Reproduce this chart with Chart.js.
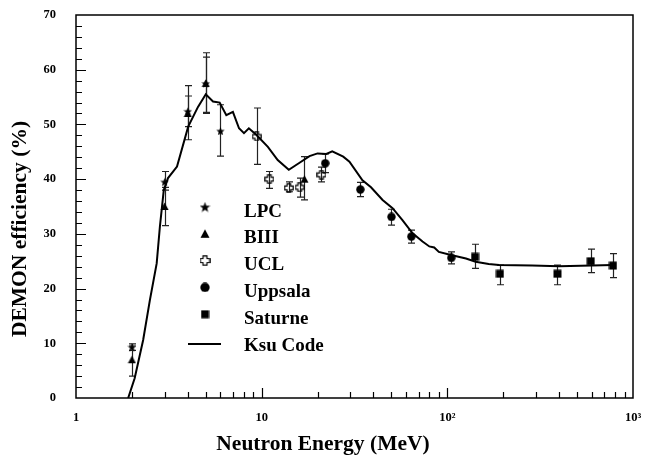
<!DOCTYPE html>
<html>
<head>
<meta charset="utf-8">
<script src="https://cdn.jsdelivr.net/npm/chart.js@4.4.0/dist/chart.umd.min.js"></script>
<style>
  body { margin: 0; background: #fff; }
  canvas { display: block; }
</style>
</head>
<body>
<canvas id="chart" width="648" height="457"></canvas>
<script>
const ctx = document.getElementById('chart').getContext('2d');
const SERIF = "'Liberation Serif', 'Times New Roman', serif";

// --- data (energy in MeV, efficiency in %) ---
const lpcE   = [2, 3, 4, 5, 6];
const lpcEff = [9.3, 39.5, 52.4, 57.5, 48.8];
const lpcLo  = [8.7, 38.0, 49.6, 52.0, 44.2];
const lpcHi  = [9.9, 41.4, 55.2, 63.1, 53.6];

const biiiE   = [2, 3, 4, 5, 17];
const biiiEff = [7.0, 35.0, 52.0, 57.5, 40.0];
const biiiLo  = [4.0, 31.5, 47.2, 52.2, 36.2];
const biiiHi  = [9.5, 38.5, 57.1, 62.3, 44.1];

const uclE   = [9.4, 11, 14, 16, 21];
const uclEff = [47.8, 40.0, 38.4, 38.5, 40.8];
const uclLo  = [42.7, 38.3, 37.7, 36.7, 39.5];
const uclHi  = [53.0, 41.4, 39.5, 40.2, 42.2];

const uppE   = [22, 34, 50, 64, 105];
const uppEff = [42.9, 38.1, 33.1, 29.5, 25.6];
const uppLo  = [41.2, 36.8, 31.6, 28.3, 24.5];
const uppHi  = [44.6, 39.4, 34.5, 30.7, 26.7];

const satE   = [141, 192, 392, 592, 780];
const satEff = [25.8, 22.7, 22.7, 25.0, 24.2];
const satLo  = [23.7, 20.7, 20.7, 22.9, 22.0];
const satHi  = [28.1, 24.3, 24.3, 27.2, 26.4];

const ksuE   = [1.91, 2.07, 2.3, 2.5, 2.72, 2.83, 2.97, 3.13, 3.5, 4.02, 4.54, 5.0, 5.47, 5.94, 6.45, 7.0, 7.55,
                8.03, 8.53, 9.35, 10.8, 12.2, 14.0, 16.0, 18.1, 20.0, 22.3, 24.0, 27.5, 29.7, 34.9, 38.8, 44.8,
                50.7, 57.3, 65, 73.5, 80, 85, 90, 106, 126, 142, 167, 190, 286, 400, 600, 780];
const ksuEff = [0, 3.6, 10.6, 17.9, 24.6, 31.3, 38.0, 40.2, 42.3, 49.6, 53.2, 55.5, 54.2, 54.0, 51.7, 52.3, 49.3,
                48.4, 49.3, 48.1, 45.9, 43.5, 41.7, 43.0, 44.2, 44.7, 44.6, 45.1, 44.1, 43.2, 39.8, 38.5, 36.2,
                34.7, 32.5, 30.1, 28.6, 27.7, 27.5, 26.7, 26.1, 25.5, 24.9, 24.5, 24.3, 24.2, 24.1, 24.2, 24.3];

const xTicks = [1, 10, 100, 1000];
const xTickLabels = ['1', '10', '10\u00b2', '10\u00b3'];
const yTicks = [0, 10, 20, 30, 40, 50, 60, 70];
const legendNames = ['LPC', 'BIII', 'UCL', 'Uppsala', 'Saturne', 'Ksu Code'];

// --- marker images ---
function marker(kind, s) {
    const c = document.createElement('canvas');
    c.width = c.height = s;
    const g = c.getContext('2d');
    const m = s / 2;
    g.fillStyle = '#000'; g.strokeStyle = '#000';
    g.beginPath();
    if (kind === 'star') {
        for (let i = 0; i < 10; i++) {
            const r = i % 2 ? m * 0.42 : m;
            const a = -Math.PI / 2 + i * Math.PI / 5;
            g.lineTo(m + r * Math.cos(a), m + 0.5 + r * Math.sin(a));
        }
        g.closePath(); g.fill();
    } else if (kind === 'tri') {
        g.moveTo(m, 0.5); g.lineTo(s - 0.5, s - 1); g.lineTo(0.5, s - 1); g.closePath(); g.fill();
    } else if (kind === 'cross') {
        const a = s * 0.32, b = s * 0.68, e = 0.8, f = s - 0.8;
        g.lineWidth = 1.2;
        g.moveTo(a, e); g.lineTo(b, e); g.lineTo(b, a); g.lineTo(f, a); g.lineTo(f, b); g.lineTo(b, b);
        g.lineTo(b, f); g.lineTo(a, f); g.lineTo(a, b); g.lineTo(e, b); g.lineTo(e, a); g.lineTo(a, a);
        g.closePath(); g.stroke();
    } else if (kind === 'circle') {
        g.arc(m, m, m - 0.3, 0, Math.PI * 2); g.fill();
    } else {
        g.fillRect(0.5, 0.5, s - 1, s - 1);
    }
    return c;
}

const kinds = ['star', 'tri', 'cross', 'circle', 'square'];
const dataMarks = kinds.map((k, i) => marker(k, [9, 9, 10, 9, 9][i]));
const legendMarks = kinds.map((k, i) => marker(k, [11, 10, 11, 10, 9][i]));

const pts = (xs, ys) => xs.map((x, i) => ({ x, y: ys[i] }));

const errSets = [
    { e: lpcE, lo: lpcLo, hi: lpcHi },
    { e: biiiE, lo: biiiLo, hi: biiiHi },
    { e: uclE, lo: uclLo, hi: uclHi },
    { e: uppE, lo: uppLo, hi: uppHi },
    { e: satE, lo: satLo, hi: satHi }
];

// --- plugins: error bars, frame + inward ticks, labels, titles, legend ---
const errorBars = {
    id: 'errorBars',
    beforeDatasetsDraw(chart) {
        const { ctx, scales: { x, y } } = chart;
        ctx.save();
        ctx.strokeStyle = '#222'; ctx.lineWidth = 1.2;
        errSets.forEach(s => {
            s.e.forEach((ev, i) => {
                const px = Math.round(x.getPixelForValue(ev)) + 0.5;
                const y1 = y.getPixelForValue(s.lo[i]), y2 = y.getPixelForValue(s.hi[i]);
                ctx.beginPath();
                ctx.moveTo(px, y1); ctx.lineTo(px, y2);
                ctx.moveTo(px - 3.5, y1); ctx.lineTo(px + 3.5, y1);
                ctx.moveTo(px - 3.5, y2); ctx.lineTo(px + 3.5, y2);
                ctx.stroke();
            });
        });
        ctx.restore();
    }
};

const frameTicks = {
    id: 'frameTicks',
    afterDraw(chart) {
        const { ctx, chartArea: a, scales: { x, y } } = chart;
        ctx.save();
        ctx.strokeStyle = '#000'; ctx.lineWidth = 1.5;
        ctx.strokeRect(a.left, a.top, a.right - a.left, a.bottom - a.top);
        ctx.lineWidth = 1.2;
        ctx.beginPath();
        for (let v = 2; v < 70; v += 2) {
            const py = Math.round(y.getPixelForValue(v)) + 0.5;
            ctx.moveTo(a.left, py); ctx.lineTo(a.left + (v % 10 === 0 ? 10 : 6), py);
        }
        for (let d = 1; d <= 100; d *= 10) {
            for (let m = 1; m <= 9; m++) {
                const v = m * d;
                if (v === 1) continue;
                const px = Math.round(x.getPixelForValue(v)) + 0.5;
                ctx.moveTo(px, a.bottom); ctx.lineTo(px, a.bottom - (m === 1 ? 10 : 6));
            }
        }
        ctx.stroke();

        // tick labels
        ctx.fillStyle = '#000';
        ctx.font = 'bold 12.5px ' + SERIF;
        ctx.textAlign = 'right'; ctx.textBaseline = 'middle';
        yTicks.forEach(v => ctx.fillText(String(v), a.left - 20, y.getPixelForValue(v)));
        ctx.textAlign = 'center'; ctx.textBaseline = 'top';
        xTicks.forEach((v, i) => ctx.fillText(xTickLabels[i], x.getPixelForValue(v), a.bottom + 14));

        // axis titles
        ctx.font = 'bold 21.5px ' + SERIF;
        ctx.textAlign = 'center'; ctx.textBaseline = 'alphabetic';
        ctx.fillText('Neutron Energy (MeV)', 323, 450);
        ctx.translate(26, 229);
        ctx.rotate(-Math.PI / 2);
        ctx.fillText('DEMON efficiency (%)', 0, 0);
        ctx.restore();

        // legend inside the plot
        ctx.save();
        ctx.fillStyle = '#000';
        ctx.font = 'bold 19px ' + SERIF;
        ctx.textAlign = 'left'; ctx.textBaseline = 'alphabetic';
        legendNames.forEach((name, i) => {
            const mid = 210 + i * 26.8;
            if (i < 5) {
                const img = legendMarks[i];
                ctx.drawImage(img, 205 - img.width / 2, mid - 3 - img.height / 2);
            } else {
                ctx.strokeStyle = '#000'; ctx.lineWidth = 2;
                ctx.beginPath(); ctx.moveTo(188, mid); ctx.lineTo(221, mid); ctx.stroke();
            }
            ctx.fillText(name, 244, mid + 6.5);
        });
        ctx.restore();
    }
};

const scatterSet = (label, xs, ys, k) => ({
    label, data: pts(xs, ys), pointStyle: dataMarks[k], pointRadius: 4, showLine: false
});

const config = {
    type: 'scatter',
    data: {
        datasets: [
            {
                label: 'Ksu Code', data: pts(ksuE, ksuEff), showLine: true, tension: 0,
                borderColor: '#000', borderWidth: 2, pointRadius: 0, fill: false
            },
            scatterSet('LPC', lpcE, lpcEff, 0),
            scatterSet('BIII', biiiE, biiiEff, 1),
            scatterSet('UCL', uclE, uclEff, 2),
            scatterSet('Uppsala', uppE, uppEff, 3),
            scatterSet('Saturne', satE, satEff, 4)
        ]
    },
    options: {
        responsive: false,
        animation: false,
        layout: { autoPadding: false, padding: { top: 15, right: 15, left: 0, bottom: 0 } },
        plugins: { legend: { display: false }, tooltip: { enabled: false } },
        scales: {
            x: {
                type: 'logarithmic', min: 1, max: 1000,
                grid: { display: false, drawTicks: false },
                border: { display: false },
                ticks: { display: false },
                afterFit: s => { s.height = 59; s.paddingLeft = 0; s.paddingRight = 0; }
            },
            y: {
                min: 0, max: 70,
                grid: { display: false, drawTicks: false },
                border: { display: false },
                ticks: { display: false, stepSize: 10 },
                afterFit: s => { s.width = 76; s.paddingTop = 0; s.paddingBottom = 0; }
            }
        }
    },
    plugins: [errorBars, frameTicks]
};

const chart = new Chart(ctx, config);
</script>
</body>
</html>
